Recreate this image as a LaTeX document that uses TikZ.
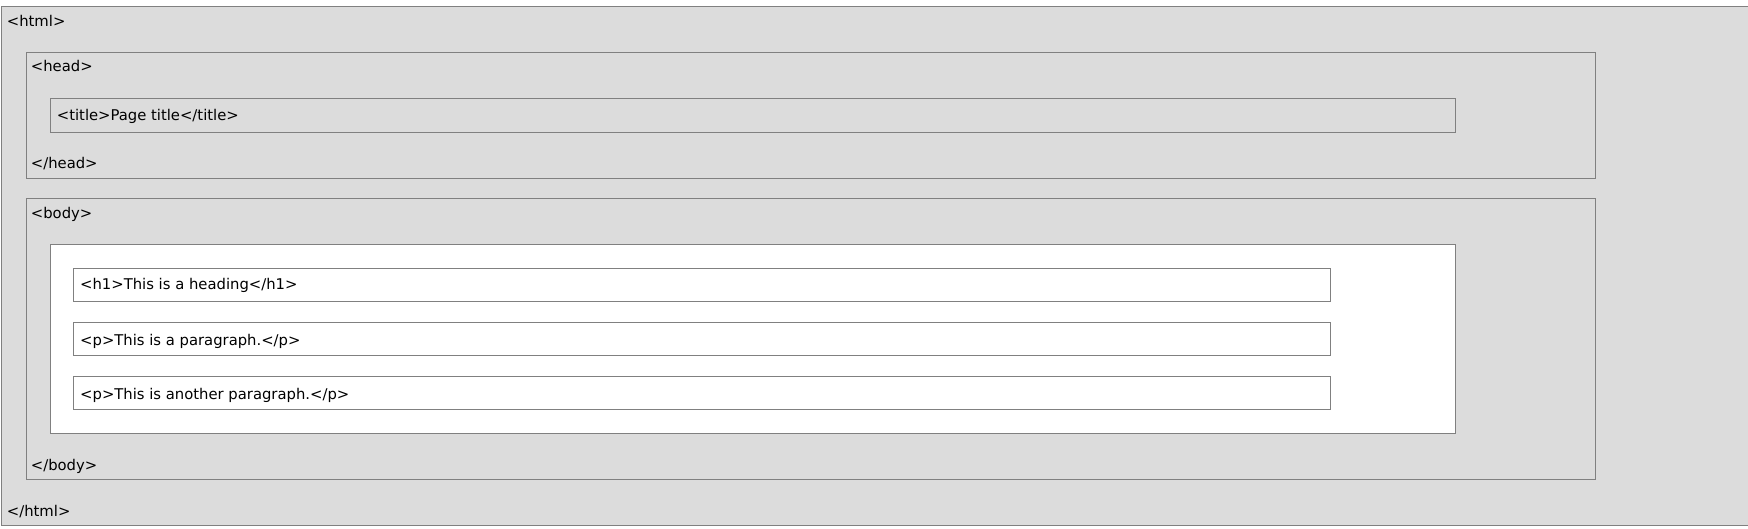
\documentclass[tikz,border=0pt]{standalone}
\usepackage{fontspec}
\setmainfont{DejaVu Sans}
\definecolor{boxgray}{HTML}{DCDCDC}
\definecolor{linegray}{HTML}{808080}
\begin{document}
\begin{tikzpicture}[x=1pt,y=-1pt,
  elem/.style={draw=linegray,line width=1pt,rectangle,anchor=north west,inner sep=0pt,minimum width=#1},
  grayel/.style={elem=#1,fill=boxgray},
  whiteel/.style={elem=#1,fill=white},
  tag/.style={anchor=base west,inner sep=0pt,font=\fontsize{14.8}{17}\selectfont,text=black}]
\useasboundingbox (0,0) rectangle (1748,528);
% html (no right border visible)
\fill[boxgray] (1,6) rectangle (1748,525);
\draw[linegray,line width=1pt] (1760,6) -- (1,6) -- (1,525) -- (1760,525);
% head
\node[grayel=1569pt,minimum height=125.5pt] (head) at (25.5,52) {};
\node[grayel=1405pt,minimum height=33.2pt] (title) at (49.5,98.3) {};
% body
\node[grayel=1569pt,minimum height=280.7pt] (body) at (25.5,198.3) {};
\node[whiteel=1405pt,minimum height=189pt] (bodyin) at (49.5,244.3) {};
\node[whiteel=1257pt,minimum height=33pt] (h1) at (73.3,268.3) {};
\node[whiteel=1257pt,minimum height=33pt] (p1) at (73.3,322.3) {};
\node[whiteel=1257pt,minimum height=33pt] (p2) at (73.3,376.3) {};
% texts
\node[tag] (thtml) at (6.7,26.7) {<html>};
\node[tag] (thead) at (30.7,71.7) {<head>};
\node[tag] (ttitle) at (56.7,120) {<title>Page title</title>};
\node[tag] (theadc) at (30.7,168.3) {</head>};
\node[tag] (tbody) at (30.7,218.3) {<body>};
\node[tag] (th1) at (80,289) {<h1>This is a heading</h1>};
\node[tag] (tp1) at (80,345) {<p>This is a paragraph.</p>};
\node[tag] (tp2) at (80,399) {<p>This is another paragraph.</p>};
\node[tag] (tbodyc) at (30.7,470.7) {</body>};
\node[tag] (thtmlc) at (6.7,516.7) {</html>};
\end{tikzpicture}
\end{document}
